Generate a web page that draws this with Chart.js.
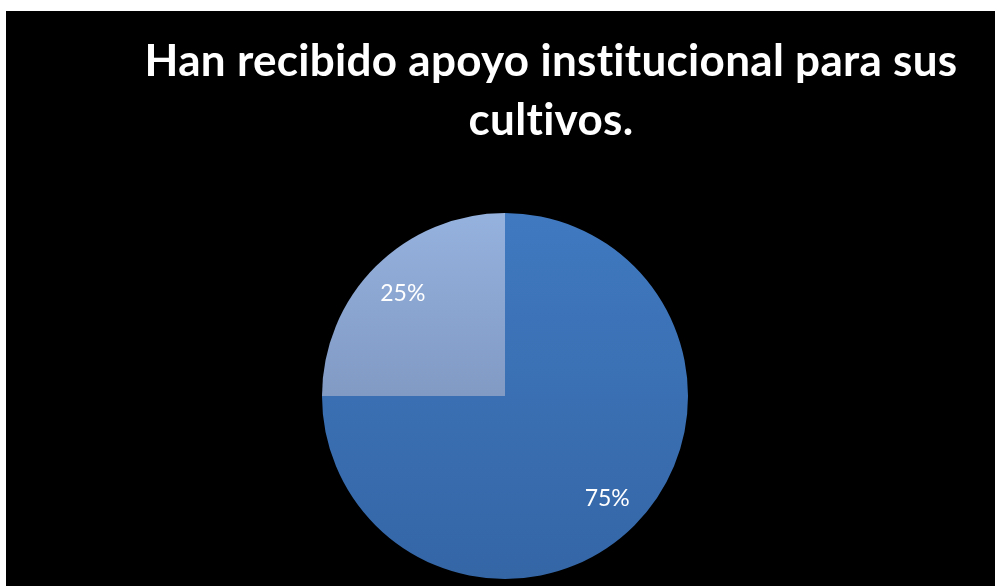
<!DOCTYPE html>
<html>
<head>
<meta charset="utf-8">
<script src="https://cdn.jsdelivr.net/npm/chart.js@4"></script>
<style>
  body { margin: 0; background: #fff; }
  #wrap { position: absolute; left: 6px; top: 11px; width: 989px; height: 575px; background: #000; }
</style>
</head>
<body>
<div id="wrap"><canvas id="pieChart"></canvas></div>
<script>
// datos del grafico
const categorias = ['No', 'Sí'];
const valores = [75, 25];
const tituloLineas = ['Han recibido apoyo institucional para sus', 'cultivos.'];

// degradados tipo office (arriba claro, abajo oscuro)
const colores = [
  ['#4079c0', '#3466a6'],
  ['#95b1dd', '#6c84ac']
];

function relleno(ctx) {
  const area = ctx.chart.chartArea;
  if (!area) return colores[ctx.dataIndex][0];
  const g = ctx.chart.ctx.createLinearGradient(0, area.top, 0, area.bottom);
  g.addColorStop(0, colores[ctx.dataIndex][0]);
  g.addColorStop(1, colores[ctx.dataIndex][1]);
  return g;
}

// titulo dibujado a mano para poder desplazarlo a la derecha
const tituloPlugin = {
  id: 'tituloPlugin',
  afterDraw(chart) {
    const c = chart.ctx;
    c.save();
    c.fillStyle = '#fff';
    c.font = 'bold 44px Lato';
    c.letterSpacing = '0.3px';
    c.textAlign = 'center';
    c.textBaseline = 'alphabetic';
    tituloLineas.forEach((t, i) => c.fillText(t, 545, 65 + i * 59));
    c.restore();
  }
};

// porcentajes dentro de cada sector
const etiquetasPlugin = {
  id: 'etiquetasPlugin',
  afterDatasetsDraw(chart) {
    const c = chart.ctx;
    const total = valores.reduce((a, b) => a + b, 0);
    c.save();
    c.fillStyle = '#fff';
    c.font = '23px Lato';
    c.textAlign = 'center';
    c.textBaseline = 'middle';
    chart.getDatasetMeta(0).data.forEach((arc, i) => {
      const mid = (arc.startAngle + arc.endAngle) / 2;
      const r = arc.outerRadius * 0.79;
      const txt = Math.round(valores[i] / total * 100) + '%';
      c.fillText(txt, arc.x + Math.cos(mid) * r, arc.y + Math.sin(mid) * r);
    });
    c.restore();
  }
};

const ctx = document.getElementById('pieChart');
new Chart(ctx, {
  type: 'pie',
  data: {
    labels: categorias,
    datasets: [{ data: valores, backgroundColor: relleno, borderWidth: 0 }]
  },
  options: {
    responsive: true,
    maintainAspectRatio: false,
    animation: false,
    layout: { padding: { left: 316, right: 307, top: 202, bottom: 7 } },
    plugins: { legend: { display: false }, tooltip: { enabled: false }, title: { display: false } }
  },
  plugins: [tituloPlugin, etiquetasPlugin]
});
</script>
</body>
</html>
